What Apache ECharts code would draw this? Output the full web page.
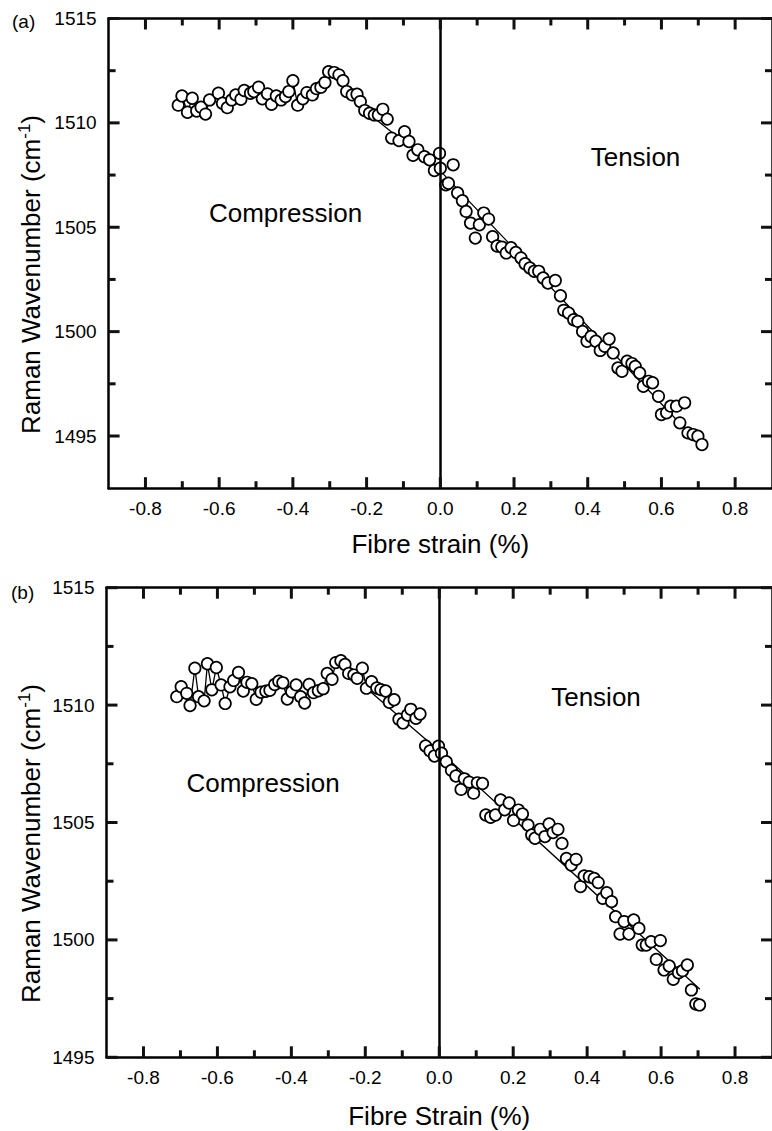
<!DOCTYPE html>
<html>
<head>
<meta charset="utf-8">
<script src="https://cdn.jsdelivr.net/npm/echarts@6/dist/echarts.min.js"></script>
<style>
  html, body { margin: 0; padding: 0; background: #fff; }
  #chart { width: 772px; height: 1131px; }
</style>
</head>
<body>
<div id="chart"></div>
<script>
// ---------- Panel (a) data ----------
const strainA = [
  -0.711,-0.701,-0.686,-0.673,-0.661,-0.649,-0.637,-0.626,-0.602,-0.591,-0.578,-0.566,-0.555,-0.541,-0.532,-0.515,-0.506,-0.493,-0.483,-0.469,
  -0.458,-0.445,-0.432,-0.420,-0.411,-0.400,-0.387,-0.373,-0.362,-0.347,-0.336,-0.324,-0.313,-0.303,-0.288,-0.275,-0.264,-0.254,-0.239,-0.226,
  -0.217,-0.205,-0.192,-0.179,-0.168,-0.156,-0.144,-0.132,-0.112,-0.097,-0.085,-0.074,-0.061,-0.043,-0.029,-0.016,-0.002,0.000,0.015,0.022,
  0.035,0.047,0.060,0.070,0.082,0.095,0.106,0.118,0.131,0.142,0.154,0.167,0.179,0.192,0.205,0.219,0.230,0.243,0.255,0.267,
  0.279,0.292,0.312,0.326,0.335,0.348,0.362,0.373,0.386,0.398,0.409,0.422,0.434,0.446,0.458,0.469,0.482,0.493,0.507,0.520,
  0.529,0.541,0.551,0.565,0.576,0.592,0.600,0.614,0.625,0.641,0.650,0.663,0.672,0.686,0.699,0.710
];
const ramanA = [
  1510.85,1511.29,1510.51,1511.18,1510.57,1510.75,1510.42,1511.10,1511.42,1510.94,1510.73,1511.10,1511.34,1511.13,1511.55,1511.42,1511.50,1511.71,1511.15,1511.39,
  1510.89,1511.29,1511.10,1511.26,1511.50,1512.02,1510.85,1511.15,1511.45,1511.34,1511.64,1511.71,1511.93,1512.45,1512.41,1512.30,1512.02,1511.50,1511.34,1511.37,
  1511.02,1510.59,1510.46,1510.38,1510.38,1510.65,1510.18,1509.27,1509.15,1509.58,1509.11,1508.45,1508.71,1508.38,1508.23,1507.72,1508.54,1507.83,1507.03,1507.11,
  1507.99,1506.64,1506.27,1505.76,1505.20,1504.48,1505.12,1505.68,1505.39,1504.55,1504.10,1504.05,1503.77,1504.02,1503.79,1503.53,1503.25,1503.05,1502.89,1502.89,
  1502.57,1502.33,1502.45,1501.72,1501.02,1500.89,1500.57,1500.49,1500.01,1499.54,1499.77,1499.54,1499.10,1499.30,1499.65,1498.98,1498.26,1498.10,1498.58,1498.47,
  1498.33,1498.02,1497.38,1497.62,1497.55,1496.90,1496.03,1496.11,1496.43,1496.43,1495.63,1496.59,1495.15,1495.07,1494.99,1494.59
];
// fitted line (a): joins the compression points below the knee, then straight segment
const kneeA = -0.2;
const fitStrainA = [0.0, 0.715];
const fitRamanA = [1507.7, 1494.4];

// ---------- Panel (b) data ----------
const strainB = [
  -0.710,-0.698,-0.683,-0.674,-0.661,-0.651,-0.636,-0.627,-0.615,-0.603,-0.590,-0.579,-0.566,-0.556,-0.543,-0.530,-0.520,-0.507,-0.495,-0.482,
  -0.469,-0.458,-0.445,-0.434,-0.423,-0.411,-0.399,-0.387,-0.375,-0.364,-0.352,-0.340,-0.327,-0.314,-0.303,-0.290,-0.280,-0.266,-0.255,-0.245,
  -0.231,-0.222,-0.208,-0.197,-0.183,-0.169,-0.158,-0.145,-0.135,-0.122,-0.109,-0.098,-0.086,-0.077,-0.063,-0.052,-0.037,-0.025,-0.013,-0.002,
  0.006,0.019,0.033,0.045,0.059,0.068,0.081,0.093,0.103,0.117,0.126,0.139,0.152,0.166,0.177,0.189,0.201,0.214,0.225,0.240,
  0.250,0.259,0.273,0.286,0.297,0.308,0.321,0.332,0.344,0.357,0.370,0.382,0.392,0.406,0.419,0.430,0.442,0.453,0.466,0.477,
  0.489,0.500,0.513,0.526,0.540,0.549,0.560,0.573,0.587,0.598,0.608,0.622,0.633,0.647,0.658,0.671,0.682,0.694,0.704
];
const ramanB = [
  1510.36,1510.78,1510.50,1509.98,1511.57,1510.36,1510.18,1511.76,1510.65,1511.60,1510.86,1510.07,1510.78,1511.05,1511.39,1510.60,1510.97,1510.91,1510.25,1510.55,
  1510.59,1510.63,1510.88,1511.02,1510.95,1510.26,1510.57,1510.86,1510.36,1510.09,1510.88,1510.53,1510.61,1510.70,1511.35,1511.10,1511.81,1511.89,1511.73,1511.35,
  1511.28,1511.14,1511.57,1510.72,1511.00,1510.73,1510.66,1510.60,1510.12,1510.23,1509.40,1509.24,1509.58,1509.82,1509.44,1509.62,1508.26,1508.05,1507.83,1508.25,
  1507.95,1507.59,1507.22,1506.98,1506.41,1506.86,1506.72,1506.25,1506.69,1506.66,1505.32,1505.22,1505.32,1505.96,1505.54,1505.83,1505.09,1505.53,1505.36,1504.89,
  1504.47,1504.33,1504.71,1504.40,1504.94,1504.57,1504.71,1504.11,1503.47,1503.19,1503.43,1502.27,1502.72,1502.69,1502.62,1502.44,1501.77,1502.01,1501.63,1500.99,
  1500.25,1500.78,1500.25,1500.85,1500.49,1499.78,1499.78,1499.92,1499.17,1499.97,1498.72,1498.89,1498.32,1498.60,1498.69,1498.93,1497.87,1497.27,1497.23
];
const kneeB = -0.19;
const fitStrainB = [0.0, 0.705];
const fitRamanB = [1508.05, 1497.9];

// ---------- Axis ticks and labels ----------
const xMajor = [-0.8, -0.6, -0.4, -0.2, 0.0, 0.2, 0.4, 0.6, 0.8];
const xMinor = [-0.7, -0.5, -0.3, -0.1, 0.1, 0.3, 0.5, 0.7];
const yMajor = [1495, 1500, 1505, 1510, 1515];
const yMinor = [1497.5, 1502.5, 1507.5, 1512.5];

const FONT = '"Liberation Sans", Arial, Helvetica, sans-serif';
const BLACK = '#000';

// value axis carrying the frame line and labels
function valueAxis(gridIndex, position, min, max, interval, labelVals, labelOpts) {
  const a = {
    type: 'value', gridIndex: gridIndex, position: position,
    min: min, max: max, interval: interval,
    axisLine: { show: true, onZero: false, lineStyle: { color: BLACK, width: 2.5 } },
    axisTick: { show: false },
    axisLabel: { show: false },
    splitLine: { show: false }
  };
  if (labelOpts) {
    a.axisLabel = Object.assign({
      show: true, customValues: labelVals, color: BLACK, fontFamily: FONT, fontSize: 19
    }, labelOpts);
  }
  return a;
}

function makeX(gridIndex, xName, gap) {
  const bottom = valueAxis(gridIndex, 'bottom', -0.9, 0.9, 0.1, xMajor,
    { margin: 11, formatter: v => (Math.abs(v) < 1e-9 ? 0 : v).toFixed(1) });
  bottom.name = xName;
  bottom.nameLocation = 'middle';
  bottom.nameGap = gap;
  bottom.nameTextStyle = { color: BLACK, fontFamily: FONT, fontSize: 26 };
  return [bottom, valueAxis(gridIndex, 'top', -0.9, 0.9, 0.1)];
}
function makeY(gridIndex, min) {
  return [
    valueAxis(gridIndex, 'left', min, 1515, 2.5, yMajor,
      { margin: 12, formatter: v => String(Math.round(v)) }),
    valueAxis(gridIndex, 'right', min, 1515, 2.5)
  ];
}

function pairs(xs, ys) { return xs.map((x, i) => [x, ys[i]]); }
function fitLine(xs, ys, knee, fx, fy) {
  const zig = pairs(xs, ys).filter(p => p[0] < knee);
  return zig.concat(pairs(fx, fy));
}

// inward tick marks on all four sides, positioned through the axis scales
// item: [x, y, isMajor, side]  side 0 bottom, 1 top, 2 left, 3 right
function tickSeries(xi, yi) {
  let data = [];
  [0, 1].forEach(side => {
    data = data.concat(xMajor.map(v => [v, 1500, 1, side]), xMinor.map(v => [v, 1500, 0, side]));
  });
  [2, 3].forEach(side => {
    data = data.concat(yMajor.map(v => [0, v, 1, side]), yMinor.map(v => [0, v, 0, side]));
  });
  const W = 3;
  return {
    type: 'custom', xAxisIndex: xi, yAxisIndex: yi, z: 20, clip: false,
    data: data,
    renderItem: function (params, api) {
      const cs = params.coordSys;
      const p = api.coord([api.value(0), api.value(1)]);
      const len = api.value(2) ? 11 : 7;
      const side = api.value(3);
      let shape;
      if (side === 0) shape = { x: p[0] - W / 2, y: cs.y + cs.height - len, width: W, height: len };
      else if (side === 1) shape = { x: p[0] - W / 2, y: cs.y, width: W, height: len };
      else if (side === 2) shape = { x: cs.x, y: p[1] - W / 2, width: len, height: W };
      else shape = { x: cs.x + cs.width - len, y: p[1] - W / 2, width: len, height: W };
      return { type: 'rect', shape: shape, style: { fill: '#111' } };
    }
  };
}

function panelSeries(xi, yi, xs, ys, knee, fx, fy) {
  return [
    {
      type: 'line', xAxisIndex: xi, yAxisIndex: yi, z: 2,
      data: fitLine(xs, ys, knee, fx, fy),
      showSymbol: false, symbol: 'none', silent: true,
      lineStyle: { color: BLACK, width: 1.3 },
      markLine: {
        silent: true, symbol: ['none', 'none'], label: { show: false },
        lineStyle: { color: BLACK, width: 2.5, type: 'solid' },
        data: [{ xAxis: 0 }]
      }
    },
    {
      type: 'scatter', xAxisIndex: xi, yAxisIndex: yi, z: 3,
      data: pairs(xs, ys),
      symbol: 'circle', symbolSize: 11.5,
      itemStyle: { color: '#fff', borderColor: BLACK, borderWidth: 1.7, opacity: 1 }
    },
    tickSeries(xi, yi)
  ];
}

function txt(x, y, text, size, align) {
  return {
    type: 'text', x: x, y: y,
    style: { text: text, fill: BLACK, fontFamily: FONT, fontSize: size, align: align || 'center', verticalAlign: 'middle' }
  };
}
function yTitle(x, y) {
  return {
    type: 'text', x: x, y: y, rotation: Math.PI / 2,
    style: {
      text: '{t|Raman Wavenumber (cm}{s|-1}{t|)}',
      align: 'center', verticalAlign: 'middle', fill: BLACK,
      rich: {
        t: { fontFamily: FONT, fontSize: 26, lineHeight: 30, fill: BLACK },
        s: { fontFamily: FONT, fontSize: 17, lineHeight: 17, verticalAlign: 'top', fill: BLACK }
      }
    }
  };
}

const chart = echarts.init(document.getElementById('chart'), null, { renderer: 'svg' });
chart.setOption({
  animation: false,
  backgroundColor: '#fff',
  grid: [
    { left: 108.6, top: 18.5, width: 671.4, height: 469.7, containLabel: false },
    { left: 106.5, top: 587.7, width: 673.5, height: 469.6, containLabel: false }
  ],
  xAxis: makeX(0, 'Fibre strain (%)', 43).concat(makeX(1, 'Fibre Strain (%)', 46)),
  yAxis: makeY(0, 1492.5).concat(makeY(1, 1495)),
  series: panelSeries(0, 0, strainA, ramanA, kneeA, fitStrainA, fitRamanA)
    .concat(panelSeries(2, 2, strainB, ramanB, kneeB, fitStrainB, fitRamanB)),
  graphic: [
    txt(12, 21, '(a)', 19, 'left'),
    txt(11, 592, '(b)', 19, 'left'),
    txt(285.5, 213, 'Compression', 26),
    txt(635.5, 157, 'Tension', 26),
    txt(263, 783, 'Compression', 26),
    txt(596, 697, 'Tension', 26),
    yTitle(31, 274.5),
    yTitle(31, 843.5)
  ]
});
</script>
</body>
</html>
